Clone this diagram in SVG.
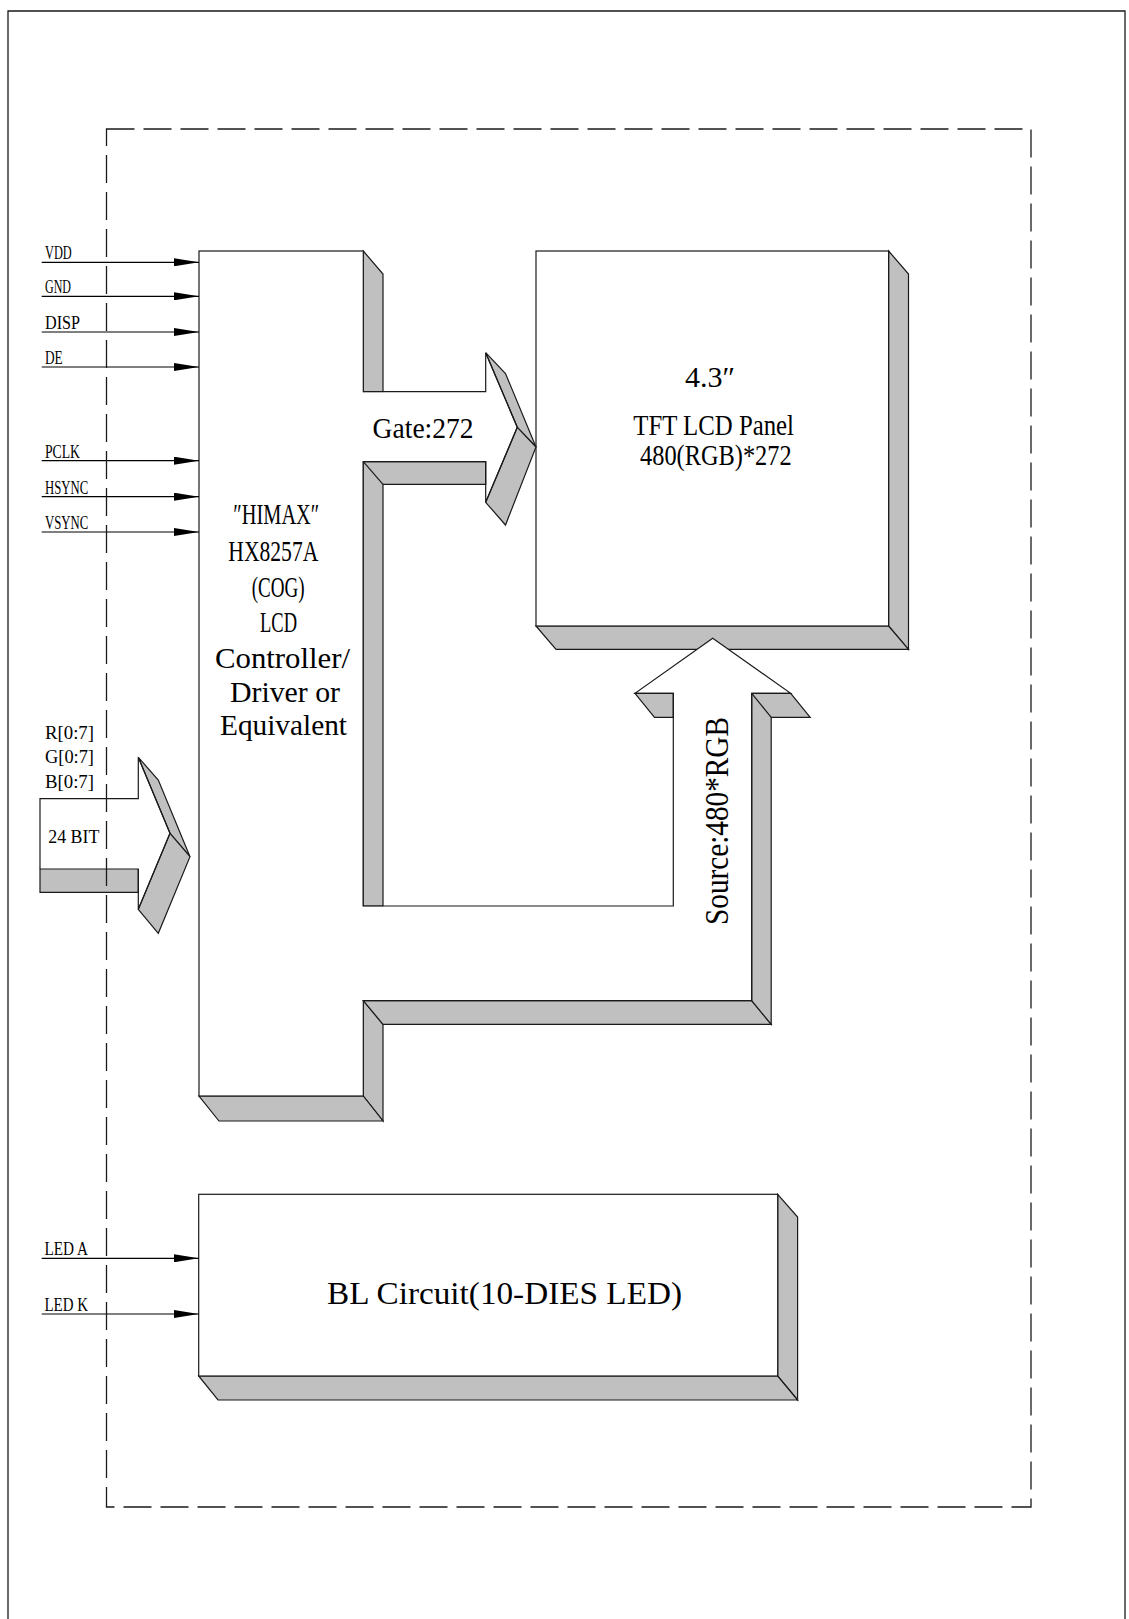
<svg xmlns="http://www.w3.org/2000/svg" width="1129" height="1619" viewBox="0 0 1129 1619">
<style>
.edge{fill:none;stroke:#1a1a1a;stroke-width:1.2;stroke-linejoin:miter}
.face{fill:#fff;stroke:#1a1a1a;stroke-width:1.2}
.side{fill:#c0c0c0;stroke:#1a1a1a;stroke-width:1.2;stroke-linejoin:miter}
.sig{fill:none;stroke:#000;stroke-width:1.2;marker-end:url(#arr)}
.t{font-family:"Liberation Serif",serif;fill:#000}
.s{font-size:18.5px}
.m{font-size:30px}
.p{font-size:28.5px}
.frame{fill:none;stroke:#1a1a1a;stroke-width:1.3}
</style>
<defs>
<marker id="arr" markerUnits="userSpaceOnUse" markerWidth="25" markerHeight="8" refX="25" refY="4" orient="auto">
<path d="M0,0 L25,4 L0,8 Z" fill="#000"/>
</marker>
</defs>
<rect width="1129" height="1619" fill="#fff"/>

<g id="driver">
<polygon class="side" points="363.3,251 383,274 383,391.7 363.3,391.7"/>
<polygon class="side" points="363.3,1000.7 383,1024.3 383,1121 363.3,1096"/>
<polygon class="side" points="199,1096 363.3,1096 383,1121 219,1121"/>
<rect class="face" x="199" y="251" width="164.3" height="845"/>
<text class="t m" x="233.3" y="524.3" textLength="86" lengthAdjust="spacingAndGlyphs">″HIMAX″</text>
<text class="t m" x="228.3" y="560.7" textLength="90" lengthAdjust="spacingAndGlyphs">HX8257A</text>
<text class="t m" x="251.7" y="596.7" textLength="53" lengthAdjust="spacingAndGlyphs">(COG)</text>
<text class="t m" x="260" y="631.7" textLength="37" lengthAdjust="spacingAndGlyphs">LCD</text>
<text class="t m" x="215" y="668" textLength="135" lengthAdjust="spacingAndGlyphs">Controller/</text>
<text class="t m" x="230" y="702" textLength="110" lengthAdjust="spacingAndGlyphs">Driver or</text>
<text class="t m" x="220" y="735" textLength="127" lengthAdjust="spacingAndGlyphs">Equivalent</text>
</g>

<g id="panel">
<polygon class="side" points="888.6,251 908.5,274 908.5,649.3 888.6,626"/>
<polygon class="side" points="536,626 888.6,626 908.5,649.3 556,649.3"/>
<rect class="face" x="536" y="251" width="352.6" height="375"/>
<text class="t p" x="685" y="387" textLength="50" lengthAdjust="spacingAndGlyphs">4.3″</text>
<text class="t p" x="633.3" y="435" textLength="160.7" lengthAdjust="spacingAndGlyphs">TFT LCD Panel</text>
<text class="t p" x="640" y="464.5" textLength="151.7" lengthAdjust="spacingAndGlyphs">480(RGB)*272</text>
</g>

<g id="backlight">
<polygon class="side" points="777.7,1194.3 797.6,1217 797.6,1400 777.7,1376"/>
<polygon class="side" points="198.7,1376 777.7,1376 797.6,1400 218,1400"/>
<rect class="face" x="198.7" y="1194.3" width="579" height="181.7"/>
<text class="t" style="font-size:32px" x="327" y="1304" textLength="355" lengthAdjust="spacingAndGlyphs">BL Circuit(10-DIES LED)</text>
</g>

<g id="connectors">
<g id="gate-bus">
<polygon fill="#fff" points="362,392.3 485.1,392.3 485.1,354 516.6,427.3 485.1,501 485.1,461.1 362,461.1"/>
<polygon class="side" points="363.3,461.7 485.7,461.7 485.7,484.3 383,484.3 383,906 363.3,906"/>
<line class="edge" x1="363.3" y1="461.7" x2="383" y2="484.3"/>
<polygon class="side" points="485.7,352.7 505.5,373.5 536,447 517.3,427.3"/>
<polygon class="side" points="517.3,427.3 536,447 505.5,525 485.7,502.3"/>
<polyline class="edge" points="363.3,391.7 485.7,391.7 485.7,352.7 517.3,427.3 485.7,502.3 485.7,461.7 363.3,461.7"/>
<text class="t m" x="372.6" y="437.5" textLength="101" lengthAdjust="spacingAndGlyphs">Gate:272</text>
</g>
<g id="source-bus">
<path fill="#fff" d="M362,906.6 H672.7 V692.7 H635 L712.7,638.3 L790.7,692.7 H751.1 V1000.1 H362 Z"/>
<polygon class="side" points="363.3,1000.7 751.7,1000.7 771.2,1024.3 383,1024.3"/>
<polygon class="side" points="635,693.3 673.3,693.3 673.3,717.3 654.5,717.3"/>
<polygon class="side" points="751.7,693.3 790.7,693.3 810.2,717.3 771.2,717.3 771.2,1024.3 751.7,1000.7"/>
<line class="edge" x1="751.7" y1="693.3" x2="771.2" y2="717.3"/>
<polyline class="edge" points="363.3,906 673.3,906 673.3,693.3 635,693.3 712.7,638.3 790.7,693.3 751.7,693.3 751.7,1000.7 363.3,1000.7"/>
<text class="t" style="font-size:33px" transform="translate(728,925) rotate(-90)" textLength="208" lengthAdjust="spacingAndGlyphs">Source:480*RGB</text>
</g>
<g id="rgb-bus">
<polygon fill="#fff" points="40,798.7 138.3,798.7 138.3,757.3 170,833.3 138.3,909.3 138.3,869 40,869"/>
<polygon class="side" points="40,869 138.3,869 138.3,892.3 40,892.3"/>
<polygon class="side" points="138.3,757.3 158.3,780 190,856.7 170,833.3"/>
<polygon class="side" points="170,833.3 190,856.7 158.3,933.3 138.3,909.3"/>
<polyline class="edge" points="40,869 40,798.7 138.3,798.7 138.3,757.3 170,833.3 138.3,909.3 138.3,869"/>
<text class="t s" x="45" y="739.3" textLength="49" lengthAdjust="spacingAndGlyphs">R[0:7]</text>
<text class="t s" x="45" y="763.3" textLength="49" lengthAdjust="spacingAndGlyphs">G[0:7]</text>
<text class="t s" x="45" y="788.3" textLength="49" lengthAdjust="spacingAndGlyphs">B[0:7]</text>
<text class="t s" x="48.3" y="843.3" textLength="51" lengthAdjust="spacingAndGlyphs">24 BIT</text>
</g>
<g id="signals">
<line class="sig" x1="41.7" y1="262.3" x2="199" y2="262.3"/>
<line class="sig" x1="41.7" y1="296.3" x2="199" y2="296.3"/>
<line class="sig" x1="41.7" y1="332" x2="199" y2="332"/>
<line class="sig" x1="41.7" y1="367" x2="199" y2="367"/>
<line class="sig" x1="41.7" y1="460.7" x2="199" y2="460.7"/>
<line class="sig" x1="41.7" y1="496.7" x2="199" y2="496.7"/>
<line class="sig" x1="41.7" y1="532" x2="199" y2="532"/>
<line class="sig" x1="41.7" y1="1258.3" x2="198.7" y2="1258.3"/>
<line class="sig" x1="41.7" y1="1314" x2="198.7" y2="1314"/>
<text class="t s" x="45" y="259.3" textLength="26.7" lengthAdjust="spacingAndGlyphs">VDD</text>
<text class="t s" x="45" y="293.3" textLength="26" lengthAdjust="spacingAndGlyphs">GND</text>
<text class="t s" x="45" y="329" textLength="35" lengthAdjust="spacingAndGlyphs">DISP</text>
<text class="t s" x="45" y="364" textLength="17.7" lengthAdjust="spacingAndGlyphs">DE</text>
<text class="t s" x="45" y="457.7" textLength="35" lengthAdjust="spacingAndGlyphs">PCLK</text>
<text class="t s" x="45" y="493.7" textLength="43.3" lengthAdjust="spacingAndGlyphs">HSYNC</text>
<text class="t s" x="45" y="529" textLength="43.3" lengthAdjust="spacingAndGlyphs">VSYNC</text>
<text class="t s" x="44.5" y="1255" textLength="43.5" lengthAdjust="spacingAndGlyphs">LED A</text>
<text class="t s" x="44.5" y="1310.7" textLength="43.5" lengthAdjust="spacingAndGlyphs">LED K</text>
</g>
</g>

<g id="frame">
<path class="frame" d="M8,1619 V11 H1125 V1619"/>
<rect class="frame" x="106.5" y="129" width="924.5" height="1378" stroke-dasharray="28 9"/>
</g>
</svg>
